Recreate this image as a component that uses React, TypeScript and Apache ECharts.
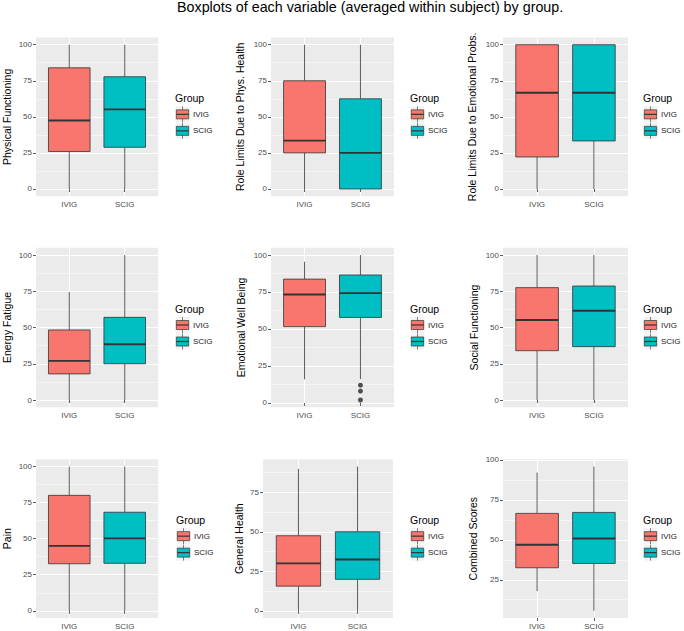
import React, { useEffect, useRef } from 'react';
import * as echarts from 'echarts';

// ---------- data ----------
const title = 'Boxplots of each variable (averaged within subject) by group.';
const legendTitle = 'Group';
const groups = ['IVIG', 'SCIG'];
const variables = [
  'Physical Functioning',
  'Role Limits Due to Phys. Health',
  'Role Limits Due to Emotional Probs.',
  'Energy Fatigue',
  'Emotional Well Being',
  'Social Functioning',
  'Pain',
  'General Health',
  'Combined Scores',
];
// [min whisker, Q1, median, Q3, max whisker]
const ivigStats = [
  [0, 26, 47.5, 84, 100],
  [0, 25, 33.5, 75, 100],
  [0, 22.2, 66.7, 100, 100],
  [0, 18, 27, 48.3, 74.5],
  [16, 51.6, 73.3, 83.7, 95.5],
  [0, 34, 55.2, 77.5, 100],
  [0, 32.6, 45, 80, 100],
  [0, 15.6, 30, 47.5, 89.8],
  [17.9, 32.5, 46.9, 66.5, 92],
];
const scigStats = [
  [0, 28.9, 55.2, 77.8, 100],
  [0, 0, 25, 62.5, 100],
  [0, 33.3, 66.7, 100, 100],
  [0, 25, 38.4, 57, 100],
  [16, 57.8, 74.2, 86.5, 100],
  [0, 36.8, 61.6, 78.6, 100],
  [0, 32.9, 50.2, 68.3, 100],
  [0, 19.9, 32.5, 50, 91.3],
  [5.6, 35.2, 50.8, 67.1, 95.8],
];
const ivigOutliers: number[][] = [[], [], [], [], [], [], [], [], []];
const scigOutliers: number[][] = [[], [], [], [], [12, 8, 2], [], [], [], []];
const majorBreaks = [0, 25, 50, 75, 100];
const minorBreaks = [12.5, 37.5, 62.5, 87.5];

// ---------- style / layout ----------
const groupColors = ['#F8766D', '#00BFC4'];
const FONT = '"Liberation Sans", Arial, Helvetica, sans-serif';
const rowTop = [37.5, 247.75, 459.3];
const rowBottom = [196.2, 407.25, 618];
const panelLeft = [35, 271, 503, 35, 271, 503, 35, 263, 503];
const panelRight = [158, 394, 628, 158, 394, 628, 158, 393, 628];
const nameGaps = [24, 26, 26, 24, 25, 24, 24, 19, 24.5];
const legendX = [175, 410, 643, 175, 410, 643, 176, 410, 643];

function buildOption() {
  const grids: any[] = [];
  const xAxes: any[] = [];
  const yAxes: any[] = [];
  const series: any[] = [];
  const graphics: any[] = [];

  variables.forEach((name, i) => {
    const r = Math.floor(i / 3);
    const top = rowTop[r];
    const height = rowBottom[r] - rowTop[r];
    grids.push({
      left: panelLeft[i],
      top,
      width: panelRight[i] - panelLeft[i],
      height,
      show: true,
      backgroundColor: '#EBEBEB',
      borderWidth: 0,
      containLabel: false,
    });

    const all = [...ivigStats[i], ...scigStats[i], ...ivigOutliers[i], ...scigOutliers[i]];
    const dMin = Math.min(...all);
    const dMax = Math.max(...all);
    const pad = (dMax - dMin) * 0.05;
    const yMin = dMin - pad;
    const yMax = dMax + pad;
    const ticks = majorBreaks.filter((v) => v >= yMin && v <= yMax);
    const minors = minorBreaks.filter((v) => v >= yMin && v <= yMax);

    xAxes.push({
      gridIndex: i,
      type: 'value',
      min: 0.4,
      max: 2.6,
      axisLine: { show: false },
      axisTick: { show: true, customValues: [1, 2], length: 3, lineStyle: { color: '#333333', width: 0.8 } },
      axisLabel: {
        customValues: [1, 2],
        formatter: (v: number) => groups[Math.round(v) - 1],
        color: '#4D4D4D',
        fontSize: 8,
        fontFamily: FONT,
        margin: 4,
      },
      splitLine: { show: true, lineStyle: { color: '#FFFFFF', width: 1.1 } },
    });

    yAxes.push({
      gridIndex: i,
      type: 'value',
      min: yMin,
      max: yMax,
      name,
      nameLocation: 'middle',
      nameGap: nameGaps[i],
      nameTextStyle: { color: '#000000', fontSize: 10.5, fontFamily: FONT },
      axisLine: { show: false },
      axisTick: { show: true, customValues: ticks, length: 3, lineStyle: { color: '#333333', width: 0.8 } },
      axisLabel: { customValues: ticks, color: '#4D4D4D', fontSize: 8, fontFamily: FONT, margin: 4 },
      splitLine: { show: true, lineStyle: { color: '#FFFFFF', width: 1.1 } },
    });

    series.push({
      type: 'custom',
      name,
      xAxisIndex: i,
      yAxisIndex: i,
      z: 3,
      data: [
        [1, ...ivigStats[i]],
        [2, ...scigStats[i]],
      ],
      encode: { x: 0, y: [1, 2, 3, 4, 5] },
      renderItem: (params: any, api: any) => {
        const x = api.value(0);
        const pts = [1, 2, 3, 4, 5].map((d) => api.coord([x, api.value(d)]));
        const cx = pts[0][0];
        const half = api.size([0.75, 0])[0] / 2;
        const [pMin, pQ1, pMed, pQ3, pMax] = pts.map((p: number[]) => p[1]);
        const color = groupColors[params.dataIndex];
        const ln = { stroke: '#333333', lineWidth: 0.8 };
        return {
          type: 'group',
          children: [
            { type: 'line', shape: { x1: cx, y1: pQ1, x2: cx, y2: pMin }, style: ln },
            { type: 'line', shape: { x1: cx, y1: pQ3, x2: cx, y2: pMax }, style: ln },
            {
              type: 'rect',
              shape: { x: cx - half, y: pQ3, width: 2 * half, height: pQ1 - pQ3 },
              style: { fill: color, stroke: '#333333', lineWidth: 0.8 },
            },
            {
              type: 'line',
              shape: { x1: cx - half, y1: pMed, x2: cx + half, y2: pMed },
              style: { stroke: '#333333', lineWidth: 1.9 },
            },
          ],
        };
      },
      markLine: {
        silent: true,
        z: 1,
        symbol: 'none',
        label: { show: false },
        lineStyle: { color: '#FFFFFF', width: 0.5, type: 'solid' },
        data: minors.map((v) => ({ yAxis: v })),
      },
    });

    const outData = [
      ...ivigOutliers[i].map((v) => [1, v]),
      ...scigOutliers[i].map((v) => [2, v]),
    ];
    if (outData.length) {
      series.push({
        type: 'scatter',
        xAxisIndex: i,
        yAxisIndex: i,
        z: 4,
        symbol: 'circle',
        symbolSize: 5,
        itemStyle: { color: '#262626' },
        data: outData,
      });
    }

    // legend (drawn as graphic)
    const cy = (rowTop[r] + rowBottom[r]) / 2;
    const lx = legendX[i];
    graphics.push({
      type: 'text',
      left: lx,
      top: cy - 24,
      style: { text: legendTitle, fill: '#000000', fontSize: 10.5, fontFamily: FONT },
    });
    groups.forEach((g, gi) => {
      const ky = cy - 2.5 + 16.5 * gi;
      const kx = lx + 0.5;
      graphics.push({
        type: 'group',
        children: [
          { type: 'rect', shape: { x: kx, y: ky - 8, width: 14, height: 16 }, style: { fill: '#F2F2F2' } },
          { type: 'line', shape: { x1: kx + 7, y1: ky - 8, x2: kx + 7, y2: ky + 8 }, style: { stroke: '#333333', lineWidth: 0.6 } },
          {
            type: 'rect',
            shape: { x: kx + 0.8, y: ky - 4.5, width: 12.4, height: 9 },
            style: { fill: groupColors[gi], stroke: '#333333', lineWidth: 0.7 },
          },
          { type: 'line', shape: { x1: kx + 0.8, y1: ky, x2: kx + 13.2, y2: ky }, style: { stroke: '#333333', lineWidth: 1.2 } },
        ],
      });
      graphics.push({
        type: 'text',
        x: lx + 18,
        y: ky,
        style: { text: g, fill: '#1A1A1A', fontSize: 8, fontFamily: FONT, verticalAlign: 'middle' },
      });
    });
  });

  return {
    animation: false,
    backgroundColor: '#FFFFFF',
    title: {
      text: title,
      left: 177,
      top: 0,
      padding: 0,
      textStyle: { fontSize: 14.3, fontWeight: 'normal', color: '#000000', fontFamily: FONT },
    },
    grid: grids,
    xAxis: xAxes,
    yAxis: yAxes,
    series,
    graphic: graphics,
  };
}

export default function App() {
  const ref = useRef<HTMLDivElement>(null);
  useEffect(() => {
    if (!ref.current) return;
    const chart = echarts.init(ref.current, null, { renderer: 'svg' });
    chart.setOption(buildOption() as any);
    return () => chart.dispose();
  }, []);
  return (
    <div
      ref={ref}
      style={{ position: 'absolute', left: 0, top: 0, width: 684, height: 631, background: '#fff' }}
    />
  );
}
